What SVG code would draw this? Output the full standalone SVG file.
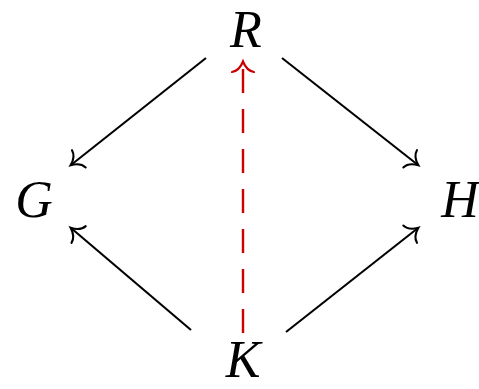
<svg xmlns="http://www.w3.org/2000/svg" width="479" height="389" viewBox="0 0 479 389">
<style>
.lbl{font-family:"Liberation Serif","DejaVu Serif",serif;font-style:italic;font-size:52px;fill:#000;text-anchor:middle}
.e{stroke:#000;stroke-width:2.1;fill:none}
.d{stroke:#c00;stroke-width:2.4;fill:none;stroke-dasharray:24 16}
</style>
<defs>
<marker id="ah" markerUnits="userSpaceOnUse" markerWidth="30" markerHeight="30" viewBox="-15 -15 30 30" refX="0" refY="0" orient="auto">
<path d="M -10,-11 C -9,-4 -2,-1 0.5,0 C -2,1 -9,4 -10,11" fill="none" stroke="#000" stroke-width="2.1" stroke-linecap="round"/>
</marker>
<marker id="ahr" markerUnits="userSpaceOnUse" markerWidth="30" markerHeight="30" viewBox="-15 -15 30 30" refX="0" refY="0" orient="auto">
<path d="M -10,-11 C -9,-4 -2,-1 0.5,0 C -2,1 -9,4 -10,11" fill="none" stroke="#c00" stroke-width="2.2" stroke-linecap="round"/>
</marker>
</defs>
<g id="connectors">
<line class="e" x1="206" y1="58" x2="71" y2="165" marker-end="url(#ah)"/>
<line class="e" x1="282" y1="58" x2="418" y2="165" marker-end="url(#ah)"/>
<line class="e" x1="191" y1="330" x2="71" y2="228" marker-end="url(#ah)"/>
<line class="e" x1="286" y1="332" x2="418" y2="228" marker-end="url(#ah)"/>
<line class="d" x1="243" y1="333" x2="243" y2="62" marker-end="url(#ahr)"/>
</g>
<g id="R"><text class="lbl" x="246" y="47">R</text></g>
<g id="G"><text class="lbl" x="34" y="217">G</text></g>
<g id="H"><text class="lbl" x="460" y="217">H</text></g>
<g id="K"><text class="lbl" x="243" y="377">K</text></g>
</svg>
